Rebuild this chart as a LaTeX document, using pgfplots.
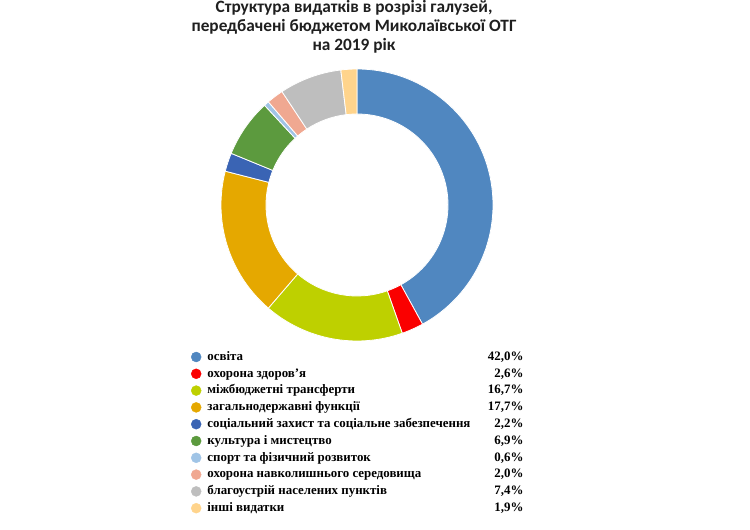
\documentclass[border=0pt]{standalone}
\usepackage{pgfplots}
\usepackage{pgfplotstable}
\pgfplotsset{compat=1.18}
\usepackage{fontspec}
\setmainfont{Liberation Serif}
\newfontfamily\titlefont{Carlito}

\definecolor{c1}{RGB}{80,135,192}
\definecolor{c2}{RGB}{250,0,0}
\definecolor{c3}{RGB}{190,208,0}
\definecolor{c4}{RGB}{229,168,0}
\definecolor{c5}{RGB}{58,100,180}
\definecolor{c6}{RGB}{92,154,62}
\definecolor{c7}{RGB}{160,196,230}
\definecolor{c8}{RGB}{240,168,145}
\definecolor{c9}{RGB}{190,190,190}
\definecolor{c10}{RGB}{255,212,140}

% shares of the 2019 budget, per cent
\pgfplotstableread[col sep=semicolon]{
val;col
42.0;c1
2.6;c2
16.7;c3
17.7;c4
2.2;c5
6.9;c6
0.6;c7
2.0;c8
7.4;c9
1.9;c10
}\budget

\newcommand{\entry}[2]{\makebox[316bp][l]{#1\hfill #2\%}}

\begin{document}
\begin{tikzpicture}
\useasboundingbox (0,0) rectangle (750bp,530bp);

\node[font=\titlefont\bfseries\fontsize{17.3bp}{19bp}\selectfont, text=black!88,
      align=center, anchor=base, inner sep=0pt] at (354bp,479bp)
  {Структура видатків в розрізі галузей,\\передбачені бюджетом Миколаївської ОТГ\\на 2019 рік};

\begin{axis}[
    at={(357bp,325bp)}, anchor=center,
    x=1bp, y=1bp,
    xmin=-150, xmax=150, ymin=-150, ymax=150,
    hide axis, clip=false,
    legend cell align=left,
    legend style={at={(axis cs:-166,-143.6)}, anchor=north west,
        draw=none, fill=none, inner sep=0pt, outer sep=0pt,
        column sep=6bp, row sep=0pt,
        nodes={inner sep=0pt, text height=11.76bp, text depth=5.04bp},
        font=\bfseries\fontsize{12.9bp}{16.8bp}\selectfont},
]
    \pgfplotstablegetrowsof{\budget}
    \pgfmathtruncatemacro\nrows{\pgfplotsretval-1}
    \gdef\cum{0}
    \foreach \i in {0,...,\nrows}{
        \pgfplotstablegetelem{\i}{val}\of\budget \let\v\pgfplotsretval
        \pgfplotstablegetelem{\i}{col}\of\budget \let\c\pgfplotsretval
        \pgfmathsetmacro\aone{90-3.6*\cum}
        \pgfmathsetmacro\atwo{90-3.6*(\cum+\v)}
        \pgfmathsetmacro\xo{136*cos(\aone)}
        \pgfmathsetmacro\yo{136*sin(\aone)}
        \pgfmathsetmacro\xi{91*cos(\atwo)}
        \pgfmathsetmacro\yi{91*sin(\atwo)}
        \edef\slice{\noexpand\fill[\c, draw=white, line width=0.8bp]
            (axis cs:\xo,\yo) arc[start angle=\aone, end angle=\atwo, radius=136bp]
            -- (axis cs:\xi,\yi) arc[start angle=\atwo, end angle=\aone, radius=91bp]
            -- cycle;}
        \slice
        \pgfmathsetmacro\newcum{\cum+\v}
        \xdef\cum{\newcum}
    }

    \addlegendimage{legend image code/.code={\fill[c1] (0bp,0bp) circle[radius=5bp];}}
    \addlegendentry{\entry{освіта}{42,0}}
    \addlegendimage{legend image code/.code={\fill[c2] (0bp,0bp) circle[radius=5bp];}}
    \addlegendentry{\entry{охорона здоров’я}{2,6}}
    \addlegendimage{legend image code/.code={\fill[c3] (0bp,0bp) circle[radius=5bp];}}
    \addlegendentry{\entry{міжбюджетні трансферти}{16,7}}
    \addlegendimage{legend image code/.code={\fill[c4] (0bp,0bp) circle[radius=5bp];}}
    \addlegendentry{\entry{загальнодержавні функції}{17,7}}
    \addlegendimage{legend image code/.code={\fill[c5] (0bp,0bp) circle[radius=5bp];}}
    \addlegendentry{\entry{соціальний захист та соціальне забезпечення}{2,2}}
    \addlegendimage{legend image code/.code={\fill[c6] (0bp,0bp) circle[radius=5bp];}}
    \addlegendentry{\entry{культура і мистецтво}{6,9}}
    \addlegendimage{legend image code/.code={\fill[c7] (0bp,0bp) circle[radius=5bp];}}
    \addlegendentry{\entry{спорт та фізичний розвиток}{0,6}}
    \addlegendimage{legend image code/.code={\fill[c8] (0bp,0bp) circle[radius=5bp];}}
    \addlegendentry{\entry{охорона навколишнього середовища}{2,0}}
    \addlegendimage{legend image code/.code={\fill[c9] (0bp,0bp) circle[radius=5bp];}}
    \addlegendentry{\entry{благоустрій населених пунктів}{7,4}}
    \addlegendimage{legend image code/.code={\fill[c10] (0bp,0bp) circle[radius=5bp];}}
    \addlegendentry{\entry{інші видатки}{1,9}}
\end{axis}
\end{tikzpicture}
\end{document}
